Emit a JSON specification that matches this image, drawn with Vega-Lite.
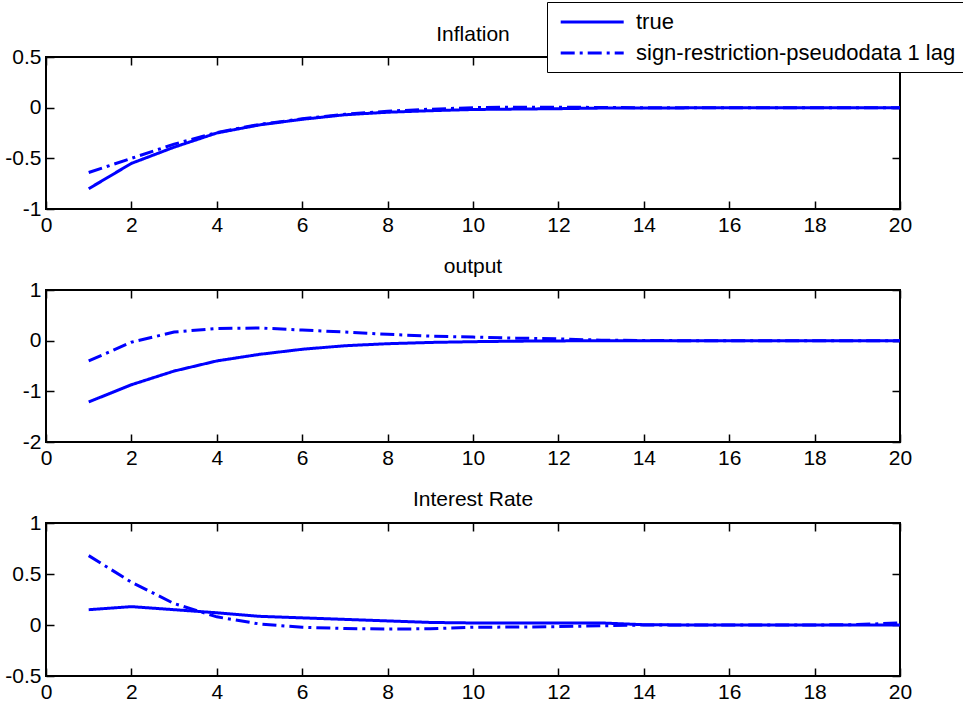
{
  "$schema": "https://vega.github.io/schema/vega-lite/v6.json",
  "padding": {"left": 3, "top": 0, "right": 5, "bottom": 4},
  "background": "white",
  "bounds": "flush",
  "spacing": 81,
  "config": {
    "font": "Liberation Sans",
    "view": {"stroke": "black", "strokeWidth": 2},
    "axis": {
      "domain": false,
      "grid": false,
      "ticks": true,
      "tickSize": -8,
      "tickColor": "black",
      "tickWidth": 1.5,
      "labelFont": "Liberation Sans",
      "labelFontSize": 21,
      "labelColor": "black",
      "labelPadding": 13,
      "labelFlush": false,
      "title": null
    },
    "title": {
      "font": "Liberation Sans",
      "fontSize": 21,
      "fontWeight": "normal",
      "color": "black",
      "anchor": "middle",
      "frame": "group",
      "baseline": "alphabetic",
      "offset": 2
    },
    "legend": {
      "labelFont": "Liberation Sans",
      "labelFontSize": 22,
      "labelColor": "black",
      "labelLimit": 600
    },
    "line": {"strokeWidth": 3}
  },
  "datasets": {
    "irf": [
      {"p": "Inflation", "s": "true", "h": 1, "v": -0.80},
      {"p": "Inflation", "s": "true", "h": 2, "v": -0.55},
      {"p": "Inflation", "s": "true", "h": 3, "v": -0.39},
      {"p": "Inflation", "s": "true", "h": 4, "v": -0.25},
      {"p": "Inflation", "s": "true", "h": 5, "v": -0.17},
      {"p": "Inflation", "s": "true", "h": 6, "v": -0.115},
      {"p": "Inflation", "s": "true", "h": 7, "v": -0.07},
      {"p": "Inflation", "s": "true", "h": 8, "v": -0.045},
      {"p": "Inflation", "s": "true", "h": 9, "v": -0.03},
      {"p": "Inflation", "s": "true", "h": 10, "v": -0.018},
      {"p": "Inflation", "s": "true", "h": 11, "v": -0.014},
      {"p": "Inflation", "s": "true", "h": 12, "v": -0.01},
      {"p": "Inflation", "s": "true", "h": 13, "v": -0.004},
      {"p": "Inflation", "s": "true", "h": 14, "v": -0.003},
      {"p": "Inflation", "s": "true", "h": 15, "v": -0.002},
      {"p": "Inflation", "s": "true", "h": 16, "v": -0.001},
      {"p": "Inflation", "s": "true", "h": 17, "v": 0},
      {"p": "Inflation", "s": "true", "h": 18, "v": 0},
      {"p": "Inflation", "s": "true", "h": 19, "v": 0},
      {"p": "Inflation", "s": "true", "h": 20, "v": 0},
      {"p": "Inflation", "s": "sign-restriction-pseudodata 1 lag", "h": 1, "v": -0.64},
      {"p": "Inflation", "s": "sign-restriction-pseudodata 1 lag", "h": 2, "v": -0.50},
      {"p": "Inflation", "s": "sign-restriction-pseudodata 1 lag", "h": 3, "v": -0.36},
      {"p": "Inflation", "s": "sign-restriction-pseudodata 1 lag", "h": 4, "v": -0.245},
      {"p": "Inflation", "s": "sign-restriction-pseudodata 1 lag", "h": 5, "v": -0.165},
      {"p": "Inflation", "s": "sign-restriction-pseudodata 1 lag", "h": 6, "v": -0.11},
      {"p": "Inflation", "s": "sign-restriction-pseudodata 1 lag", "h": 7, "v": -0.065},
      {"p": "Inflation", "s": "sign-restriction-pseudodata 1 lag", "h": 8, "v": -0.035},
      {"p": "Inflation", "s": "sign-restriction-pseudodata 1 lag", "h": 9, "v": -0.015},
      {"p": "Inflation", "s": "sign-restriction-pseudodata 1 lag", "h": 10, "v": 0.0},
      {"p": "Inflation", "s": "sign-restriction-pseudodata 1 lag", "h": 11, "v": 0.005},
      {"p": "Inflation", "s": "sign-restriction-pseudodata 1 lag", "h": 12, "v": 0.005},
      {"p": "Inflation", "s": "sign-restriction-pseudodata 1 lag", "h": 13, "v": 0.002},
      {"p": "Inflation", "s": "sign-restriction-pseudodata 1 lag", "h": 14, "v": 0},
      {"p": "Inflation", "s": "sign-restriction-pseudodata 1 lag", "h": 15, "v": 0},
      {"p": "Inflation", "s": "sign-restriction-pseudodata 1 lag", "h": 16, "v": 0},
      {"p": "Inflation", "s": "sign-restriction-pseudodata 1 lag", "h": 17, "v": 0},
      {"p": "Inflation", "s": "sign-restriction-pseudodata 1 lag", "h": 18, "v": 0},
      {"p": "Inflation", "s": "sign-restriction-pseudodata 1 lag", "h": 19, "v": 0},
      {"p": "Inflation", "s": "sign-restriction-pseudodata 1 lag", "h": 20, "v": 0},
      {"p": "output", "s": "true", "h": 1, "v": -1.21},
      {"p": "output", "s": "true", "h": 2, "v": -0.87},
      {"p": "output", "s": "true", "h": 3, "v": -0.60},
      {"p": "output", "s": "true", "h": 4, "v": -0.40},
      {"p": "output", "s": "true", "h": 5, "v": -0.27},
      {"p": "output", "s": "true", "h": 6, "v": -0.17},
      {"p": "output", "s": "true", "h": 7, "v": -0.10},
      {"p": "output", "s": "true", "h": 8, "v": -0.06},
      {"p": "output", "s": "true", "h": 9, "v": -0.035},
      {"p": "output", "s": "true", "h": 10, "v": -0.02},
      {"p": "output", "s": "true", "h": 11, "v": -0.01},
      {"p": "output", "s": "true", "h": 12, "v": -0.005},
      {"p": "output", "s": "true", "h": 13, "v": 0},
      {"p": "output", "s": "true", "h": 14, "v": 0},
      {"p": "output", "s": "true", "h": 15, "v": 0},
      {"p": "output", "s": "true", "h": 16, "v": 0},
      {"p": "output", "s": "true", "h": 17, "v": 0},
      {"p": "output", "s": "true", "h": 18, "v": 0},
      {"p": "output", "s": "true", "h": 19, "v": 0},
      {"p": "output", "s": "true", "h": 20, "v": 0},
      {"p": "output", "s": "sign-restriction-pseudodata 1 lag", "h": 1, "v": -0.40},
      {"p": "output", "s": "sign-restriction-pseudodata 1 lag", "h": 2, "v": -0.03},
      {"p": "output", "s": "sign-restriction-pseudodata 1 lag", "h": 3, "v": 0.17},
      {"p": "output", "s": "sign-restriction-pseudodata 1 lag", "h": 4, "v": 0.24},
      {"p": "output", "s": "sign-restriction-pseudodata 1 lag", "h": 5, "v": 0.25},
      {"p": "output", "s": "sign-restriction-pseudodata 1 lag", "h": 6, "v": 0.21},
      {"p": "output", "s": "sign-restriction-pseudodata 1 lag", "h": 7, "v": 0.17},
      {"p": "output", "s": "sign-restriction-pseudodata 1 lag", "h": 8, "v": 0.125},
      {"p": "output", "s": "sign-restriction-pseudodata 1 lag", "h": 9, "v": 0.09},
      {"p": "output", "s": "sign-restriction-pseudodata 1 lag", "h": 10, "v": 0.07},
      {"p": "output", "s": "sign-restriction-pseudodata 1 lag", "h": 11, "v": 0.05},
      {"p": "output", "s": "sign-restriction-pseudodata 1 lag", "h": 12, "v": 0.035},
      {"p": "output", "s": "sign-restriction-pseudodata 1 lag", "h": 13, "v": 0.01},
      {"p": "output", "s": "sign-restriction-pseudodata 1 lag", "h": 14, "v": 0.003},
      {"p": "output", "s": "sign-restriction-pseudodata 1 lag", "h": 15, "v": 0},
      {"p": "output", "s": "sign-restriction-pseudodata 1 lag", "h": 16, "v": 0},
      {"p": "output", "s": "sign-restriction-pseudodata 1 lag", "h": 17, "v": 0},
      {"p": "output", "s": "sign-restriction-pseudodata 1 lag", "h": 18, "v": 0},
      {"p": "output", "s": "sign-restriction-pseudodata 1 lag", "h": 19, "v": 0},
      {"p": "output", "s": "sign-restriction-pseudodata 1 lag", "h": 20, "v": 0},
      {"p": "Interest Rate", "s": "true", "h": 1, "v": 0.15},
      {"p": "Interest Rate", "s": "true", "h": 2, "v": 0.18},
      {"p": "Interest Rate", "s": "true", "h": 3, "v": 0.15},
      {"p": "Interest Rate", "s": "true", "h": 4, "v": 0.12},
      {"p": "Interest Rate", "s": "true", "h": 5, "v": 0.085},
      {"p": "Interest Rate", "s": "true", "h": 6, "v": 0.07},
      {"p": "Interest Rate", "s": "true", "h": 7, "v": 0.055},
      {"p": "Interest Rate", "s": "true", "h": 8, "v": 0.04},
      {"p": "Interest Rate", "s": "true", "h": 9, "v": 0.025},
      {"p": "Interest Rate", "s": "true", "h": 10, "v": 0.02},
      {"p": "Interest Rate", "s": "true", "h": 11, "v": 0.02},
      {"p": "Interest Rate", "s": "true", "h": 12, "v": 0.02},
      {"p": "Interest Rate", "s": "true", "h": 13, "v": 0.02},
      {"p": "Interest Rate", "s": "true", "h": 14, "v": 0.003},
      {"p": "Interest Rate", "s": "true", "h": 15, "v": 0},
      {"p": "Interest Rate", "s": "true", "h": 16, "v": 0},
      {"p": "Interest Rate", "s": "true", "h": 17, "v": 0},
      {"p": "Interest Rate", "s": "true", "h": 18, "v": 0},
      {"p": "Interest Rate", "s": "true", "h": 19, "v": 0},
      {"p": "Interest Rate", "s": "true", "h": 20, "v": 0},
      {"p": "Interest Rate", "s": "sign-restriction-pseudodata 1 lag", "h": 1, "v": 0.68},
      {"p": "Interest Rate", "s": "sign-restriction-pseudodata 1 lag", "h": 2, "v": 0.42},
      {"p": "Interest Rate", "s": "sign-restriction-pseudodata 1 lag", "h": 3, "v": 0.21},
      {"p": "Interest Rate", "s": "sign-restriction-pseudodata 1 lag", "h": 4, "v": 0.08},
      {"p": "Interest Rate", "s": "sign-restriction-pseudodata 1 lag", "h": 5, "v": 0.01},
      {"p": "Interest Rate", "s": "sign-restriction-pseudodata 1 lag", "h": 6, "v": -0.022},
      {"p": "Interest Rate", "s": "sign-restriction-pseudodata 1 lag", "h": 7, "v": -0.035},
      {"p": "Interest Rate", "s": "sign-restriction-pseudodata 1 lag", "h": 8, "v": -0.04},
      {"p": "Interest Rate", "s": "sign-restriction-pseudodata 1 lag", "h": 9, "v": -0.037},
      {"p": "Interest Rate", "s": "sign-restriction-pseudodata 1 lag", "h": 10, "v": -0.022},
      {"p": "Interest Rate", "s": "sign-restriction-pseudodata 1 lag", "h": 11, "v": -0.02},
      {"p": "Interest Rate", "s": "sign-restriction-pseudodata 1 lag", "h": 12, "v": -0.016},
      {"p": "Interest Rate", "s": "sign-restriction-pseudodata 1 lag", "h": 13, "v": -0.008},
      {"p": "Interest Rate", "s": "sign-restriction-pseudodata 1 lag", "h": 14, "v": 0},
      {"p": "Interest Rate", "s": "sign-restriction-pseudodata 1 lag", "h": 15, "v": 0},
      {"p": "Interest Rate", "s": "sign-restriction-pseudodata 1 lag", "h": 16, "v": 0},
      {"p": "Interest Rate", "s": "sign-restriction-pseudodata 1 lag", "h": 17, "v": 0},
      {"p": "Interest Rate", "s": "sign-restriction-pseudodata 1 lag", "h": 18, "v": 0},
      {"p": "Interest Rate", "s": "sign-restriction-pseudodata 1 lag", "h": 19, "v": 0.004},
      {"p": "Interest Rate", "s": "sign-restriction-pseudodata 1 lag", "h": 20, "v": 0.02}
    ]
  },
  "resolve": {
    "scale": {"color": "independent", "strokeDash": "independent"},
    "legend": {"color": "independent", "strokeDash": "independent"}
  },
  "vconcat": [
    {
      "title": {"text": "Inflation", "offset": 0, "dy": 43},
      "width": 854,
      "height": 152,
      "data": {"name": "irf"},
      "transform": [{"filter": "datum.p === 'Inflation'"}],
      "layer": [
        {
          "mark": {"type": "line", "strokeWidth": 3},
          "encoding": {
            "x": {"field": "h", "type": "quantitative", "scale": {"domain": [0, 20], "nice": false}, "axis": {"values": [0, 2, 4, 6, 8, 10, 12, 14, 16, 18, 20], "labelExpr": "toString(datum.value)", "labelPadding": 13}},
            "y": {"field": "v", "type": "quantitative", "scale": {"domain": [-1, 0.5], "nice": false, "zero": false}, "axis": {"values": [-1, -0.5, 0, 0.5], "labelExpr": "toString(datum.value)", "labelPadding": 13}},
            "color": {"field": "s", "type": "nominal", "scale": {"domain": ["true", "sign-restriction-pseudodata 1 lag"], "range": ["#0000ff", "#0000ff"]},
              "legend": {"orient": "none", "legendX": 501, "legendY": -55, "title": null, "fillColor": "white", "strokeColor": "black", "padding": 8, "rowPadding": 8, "symbolType": "M-0.6,0H5.4", "symbolSize": 441, "symbolStrokeWidth": 3, "symbolFillColor": "transparent", "labelOffset": 57, "labelFontSize": 22, "labelLimit": 600}},
            "strokeDash": {"field": "s", "type": "nominal", "scale": {"domain": ["true", "sign-restriction-pseudodata 1 lag"], "range": [[1, 0], [14, 5, 3, 5]]},
              "legend": {"orient": "none", "legendX": 501, "legendY": -55, "title": null, "fillColor": "white", "strokeColor": "black", "padding": 8, "rowPadding": 8, "symbolType": "M-0.6,0H5.4", "symbolSize": 441, "symbolStrokeWidth": 3, "symbolFillColor": "transparent", "labelOffset": 57, "labelFontSize": 22, "labelLimit": 600}}
          }
        },
        {
          "mark": {"type": "line", "strokeOpacity": 0},
          "encoding": {
            "x": {"field": "h", "type": "quantitative", "scale": {"domain": [0, 20], "nice": false}, "axis": {"orient": "top", "labels": false, "labelPadding": 0, "values": [0, 2, 4, 6, 8, 10, 12, 14, 16, 18, 20]}},
            "y": {"field": "v", "type": "quantitative", "scale": {"domain": [-1, 0.5], "nice": false, "zero": false}, "axis": {"orient": "right", "labels": false, "labelPadding": 0, "values": [-1, -0.5, 0, 0.5]}},
            "detail": {"field": "s"}
          }
        }
      ],
      "resolve": {"axis": {"x": "independent", "y": "independent"}}
    },
    {
      "title": "output",
      "width": 854,
      "height": 152,
      "data": {"name": "irf"},
      "transform": [{"filter": "datum.p === 'output'"}],
      "layer": [
        {
          "mark": {"type": "line", "strokeWidth": 3},
          "encoding": {
            "x": {"field": "h", "type": "quantitative", "scale": {"domain": [0, 20], "nice": false}, "axis": {"values": [0, 2, 4, 6, 8, 10, 12, 14, 16, 18, 20], "labelExpr": "toString(datum.value)", "labelPadding": 13}},
            "y": {"field": "v", "type": "quantitative", "scale": {"domain": [-2, 1], "nice": false, "zero": false}, "axis": {"values": [-2, -1, 0, 1], "labelExpr": "toString(datum.value)", "labelPadding": 13}},
            "color": {"field": "s", "type": "nominal", "scale": {"domain": ["true", "sign-restriction-pseudodata 1 lag"], "range": ["#0000ff", "#0000ff"]}, "legend": null},
            "strokeDash": {"field": "s", "type": "nominal", "scale": {"domain": ["true", "sign-restriction-pseudodata 1 lag"], "range": [[1, 0], [14, 5, 3, 5]]}, "legend": null}
          }
        },
        {
          "mark": {"type": "line", "strokeOpacity": 0},
          "encoding": {
            "x": {"field": "h", "type": "quantitative", "scale": {"domain": [0, 20], "nice": false}, "axis": {"orient": "top", "labels": false, "labelPadding": 0, "values": [0, 2, 4, 6, 8, 10, 12, 14, 16, 18, 20]}},
            "y": {"field": "v", "type": "quantitative", "scale": {"domain": [-2, 1], "nice": false, "zero": false}, "axis": {"orient": "right", "labels": false, "labelPadding": 0, "values": [-2, -1, 0, 1]}},
            "detail": {"field": "s"}
          }
        }
      ],
      "resolve": {"axis": {"x": "independent", "y": "independent"}}
    },
    {
      "title": "Interest Rate",
      "width": 854,
      "height": 153,
      "data": {"name": "irf"},
      "transform": [{"filter": "datum.p === 'Interest Rate'"}],
      "layer": [
        {
          "mark": {"type": "line", "strokeWidth": 3},
          "encoding": {
            "x": {"field": "h", "type": "quantitative", "scale": {"domain": [0, 20], "nice": false}, "axis": {"values": [0, 2, 4, 6, 8, 10, 12, 14, 16, 18, 20], "labelExpr": "toString(datum.value)", "labelPadding": 13}},
            "y": {"field": "v", "type": "quantitative", "scale": {"domain": [-0.5, 1], "nice": false, "zero": false}, "axis": {"values": [-0.5, 0, 0.5, 1], "labelExpr": "toString(datum.value)", "labelPadding": 13}},
            "color": {"field": "s", "type": "nominal", "scale": {"domain": ["true", "sign-restriction-pseudodata 1 lag"], "range": ["#0000ff", "#0000ff"]}, "legend": null},
            "strokeDash": {"field": "s", "type": "nominal", "scale": {"domain": ["true", "sign-restriction-pseudodata 1 lag"], "range": [[1, 0], [14, 5, 3, 5]]}, "legend": null}
          }
        },
        {
          "mark": {"type": "line", "strokeOpacity": 0},
          "encoding": {
            "x": {"field": "h", "type": "quantitative", "scale": {"domain": [0, 20], "nice": false}, "axis": {"orient": "top", "labels": false, "labelPadding": 0, "values": [0, 2, 4, 6, 8, 10, 12, 14, 16, 18, 20]}},
            "y": {"field": "v", "type": "quantitative", "scale": {"domain": [-0.5, 1], "nice": false, "zero": false}, "axis": {"orient": "right", "labels": false, "labelPadding": 0, "values": [-0.5, 0, 0.5, 1]}},
            "detail": {"field": "s"}
          }
        }
      ],
      "resolve": {"axis": {"x": "independent", "y": "independent"}}
    }
  ]
}
